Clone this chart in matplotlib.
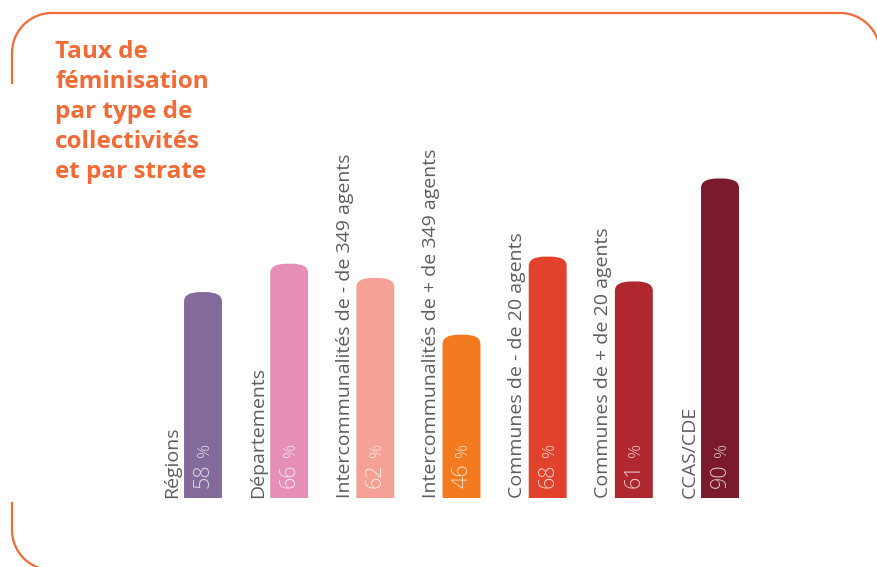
import numpy as np
import matplotlib
matplotlib.use("Agg")
import matplotlib.pyplot as plt
from matplotlib.patches import FancyBboxPatch
from matplotlib.lines import Line2D

'''Data'''
categories = ["Régions", "Départements", "Intercommunalités de - de 349 agents",
              "Intercommunalités de + de 349 agents", "Communes de - de 20 agents",
              "Communes de + de 20 agents", "CCAS/CDE"]
values = [58, 66, 62, 46, 68, 61, 90]
colors = ["#826b9a", "#e58fb6", "#f5a195", "#f47a20", "#e2412b", "#b0282f", "#7a1a2c"]
title = "Taux de\nféminisation\npar type de\ncollectivités\net par strate"

W, H = 877, 567
orange = "#f26a35"
plt.rcParams['font.family'] = ['Open Sans', 'DejaVu Sans']

fig = plt.figure(figsize=(W / 100, H / 100), dpi=100)

'''Frame (rounded, open on the left side)'''
def px(x, y):
    return x / W, 1 - y / H

r = 40
left, top, right, bottom = 12, 13, 880, 570
def arc(cx, cy, a0, a1):
    t = np.radians(np.linspace(a0, a1, 40))
    return cx + r * np.cos(t), cy - r * np.sin(t)

xs, ys = [left], [83]
ax1, ay1 = arc(left + r, top + r, 180, 90)
ax2, ay2 = arc(right - r, top + r, 90, 0)
xs += list(ax1) + list(ax2)
ys += list(ay1) + list(ay2)
fx, fy = zip(*[px(a, b) for a, b in zip(xs, ys)])
fig.add_artist(Line2D(fx, fy, color=orange, lw=1.6, transform=fig.transFigure))

bx, by = arc(left + r, bottom - r, 180, 270)
xs2 = [left] + list(bx)
ys2 = [503] + list(by)
fx, fy = zip(*[px(a, b) for a, b in zip(xs2, ys2)])
fig.add_artist(Line2D(fx, fy, color=orange, lw=1.6, transform=fig.transFigure))

'''Title'''
fig.text(55 / W, 1 - 40 / H, title, color=orange, fontsize=17.5, fontweight='bold',
         va='top', ha='left', linespacing=1.34)

'''Bars'''
ax = fig.add_axes([159.9 / W, 69 / H, 603.2 / W, 355 / H])
ax.set_xlim(-0.5, len(values) - 0.5)
ax.set_ylim(0, 100)
ax.axis('off')
ax.patch.set_alpha(0)

bw = 0.44
for i, (v, c) in enumerate(zip(values, colors)):
    p = FancyBboxPatch((i - bw / 2, -10), bw, v + 10,
                       boxstyle="round,pad=0,rounding_size=0.19",
                       mutation_aspect=14, fc=c, ec='none')
    ax.add_patch(p)
    ax.text(i - bw / 2 - 0.03, 0, categories[i], rotation=90, ha='right', va='bottom',
            fontsize=14, color='#5e5e5e')
    ax.annotate(str(v), (i, 0), xytext=(0, 10), textcoords='offset pixels',
                rotation=90, ha='center', va='bottom', fontsize=15.5,
                color='white', alpha=0.75, fontweight='light')
    ax.annotate("%", (i, 0), xytext=(2, 41), textcoords='offset pixels',
                rotation=90, ha='center', va='bottom', fontsize=12.5,
                color='white', alpha=0.75, fontweight='light')

fig.savefig("out.png", dpi=100)
